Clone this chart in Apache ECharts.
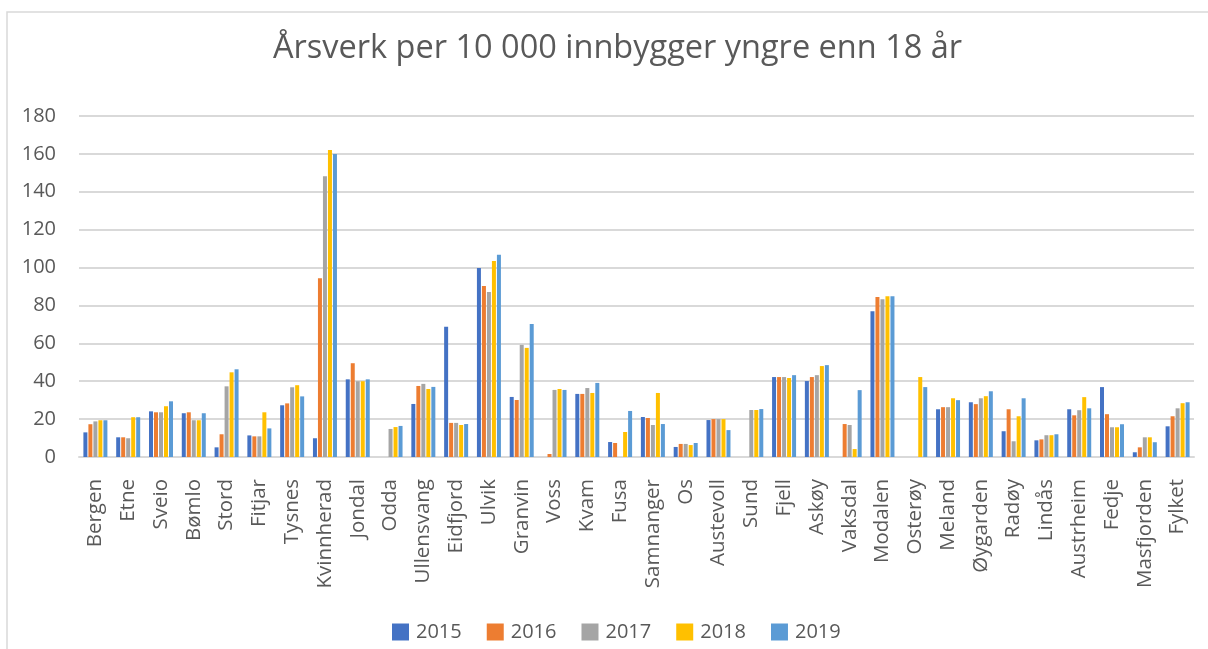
<!DOCTYPE html>
<html>
<head>
<meta charset="utf-8">
<script src="https://cdn.jsdelivr.net/npm/echarts@6/dist/echarts.min.js"></script>
<style>
  html, body { margin: 0; padding: 0; background: #fff; }
  #main { width: 1208px; height: 649px; }
</style>
</head>
<body>
<div id="main"></div>
<script>
// kommuner
var kommuner = ['Bergen', 'Etne', 'Sveio', 'Bømlo', 'Stord', 'Fitjar', 'Tysnes', 'Kvinnherad', 'Jondal',
    'Odda', 'Ullensvang', 'Eidfjord', 'Ulvik', 'Granvin', 'Voss', 'Kvam', 'Fusa', 'Samnanger', 'Os',
    'Austevoll', 'Sund', 'Fjell', 'Askøy', 'Vaksdal', 'Modalen', 'Osterøy', 'Meland', 'Øygarden', 'Radøy',
    'Lindås', 'Austrheim', 'Fedje', 'Masfjorden', 'Fylket'];
var years = ['2015', '2016', '2017', '2018', '2019'];

var v2015 = [13, 10.4, 24.1, 23.1, 5.1, 11.4, 27.3, 9.9, 41,
    null, 28, 68.7, 99.8, 31.7, null, 33.3, 7.9, 21.1, 5.3,
    19.5, null, 42.2, 40.1, null, 77, null, 25.2, 28.9, 13.6,
    8.8, 25.2, 36.9, 2.5, 16.2];
var v2016 = [17.3, 10.4, 23.6, 23.6, 12, 10.9, 28.3, 94.4, 49.5,
    null, 37.5, 18, 90.3, 30.1, 1.6, 33.3, 7.4, 20.6, 6.9,
    20, null, 42.2, 42.2, 17.4, 84.4, null, 26.3, 27.9, 25.2,
    9.3, 22, 22.6, 5.1, 21.5];
var v2017 = [18.8, 9.9, 23.6, 19.4, 37.3, 10.9, 36.8, 148.2, 40,
    14.8, 38.6, 18, 87.1, 59.2, 35.4, 36.4, null, 16.9, 6.9,
    20, 24.8, 42.2, 43.2, 16.9, 83.3, null, 26.3, 31, 8.3,
    11.5, 24.7, 15.7, 10.4, 25.7];
var v2018 = [19.4, 21, 26.8, 19.4, 44.7, 23.6, 37.9, 162, 40,
    15.8, 35.9, 16.9, 103.5, 57.6, 35.9, 33.8, 13.2, 33.8, 6.3,
    20, 24.8, 41.7, 48, 4.2, 84.9, 42.2, 31, 32.1, 21.5,
    11.5, 31.6, 15.7, 10.4, 28.4];
var v2019 = [19.4, 21, 29.4, 23.1, 46.3, 15.1, 32, 160, 41,
    16.4, 37, 17.4, 106.7, 70.2, 35.4, 39.1, 24.3, 17.4, 7.4,
    14.2, 25.3, 43.2, 48.5, 35.3, 84.9, 36.9, 30, 34.7, 31,
    12, 25.7, 17.3, 7.8, 28.9];

var farger = ['#4472C4', '#ED7D31', '#A5A5A5', '#FFC000', '#5B9BD5'];
var alleVerdier = [v2015, v2016, v2017, v2018, v2019];

var myChart = echarts.init(document.getElementById('main'));

var serier = [];
for (var i = 0; i < years.length; i++) {
    serier.push({
        name: years[i],
        type: 'bar',
        data: alleVerdier[i],
        barWidth: 4,
        barGap: '25%',
        itemStyle: { color: farger[i] }
    });
}

var option = {
    animation: false,
    color: farger,
    textStyle: { fontFamily: 'Open Sans' },
    title: {
        text: 'Årsverk per 10 000 innbygger yngre enn 18 år',
        left: 268,
        top: 27,
        textStyle: { fontSize: 32.5, fontWeight: 'normal', color: '#595959', fontFamily: 'Open Sans' }
    },
    legend: {
        data: years,
        left: 387,
        top: 617,
        itemWidth: 17,
        itemHeight: 17,
        itemGap: 25,
        icon: 'rect',
        textStyle: { fontSize: 20, color: '#595959', padding: [0, 0, 0, 2] }
    },
    grid: { left: 79, right: 14, top: 116, bottom: 192 },
    graphic: [{
        type: 'rect',
        shape: { x: 7, y: 12, width: 1230, height: 700 },
        style: { fill: 'none', stroke: '#d9d9d9', lineWidth: 1.5 },
        silent: true
    }],
    xAxis: {
        type: 'category',
        data: kommuner,
        axisLine: { lineStyle: { color: '#d9d9d9', width: 2 } },
        axisTick: { show: false },
        axisLabel: { rotate: 90, fontSize: 20.5, color: '#595959', margin: 22, interval: 0 }
    },
    yAxis: {
        type: 'value',
        min: 0,
        max: 180,
        interval: 20,
        axisLine: { show: false },
        axisTick: { show: false },
        axisLabel: { fontSize: 20, color: '#595959', margin: 23 },
        splitLine: { lineStyle: { color: '#d9d9d9', width: 2 } }
    },
    series: serier
};

myChart.setOption(option);
</script>
</body>
</html>
